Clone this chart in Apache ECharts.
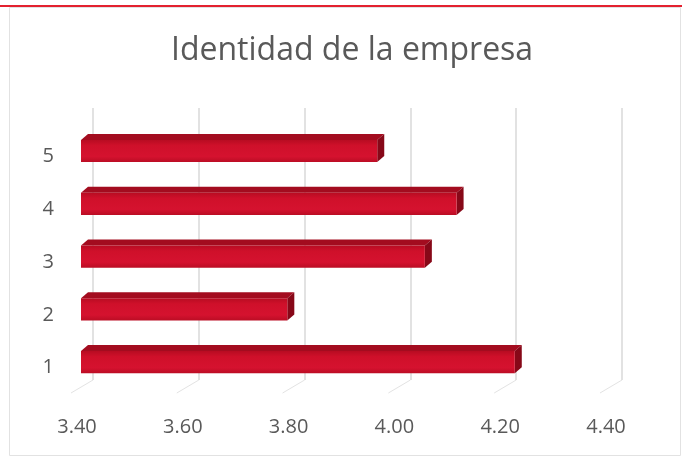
<!DOCTYPE html>
<html>
<head>
<meta charset="utf-8">
<script src="https://cdn.jsdelivr.net/npm/echarts@6/dist/echarts.min.js"></script>
<style>
  html, body { margin: 0; padding: 0; background: #ffffff; }
  #chart { width: 682px; height: 459px; }
</style>
</head>
<body>
<div id="chart"></div>
<script>
// Survey scores for "Identidad de la empresa"
const categories = ['1', '2', '3', '4', '5'];
const scores = [4.22, 3.79, 4.05, 4.11, 3.96];
const tickValues = [3.40, 3.60, 3.80, 4.00, 4.20, 4.40];
const axisMin = 3.4;
const axisMax = 4.4;
const axisStep = 0.2;

const labelColor = '#595959';
const gridColor = '#d9d9d9';
// depth offset of the extruded bars
const DX = 7, DY = 6;

function renderBar(params, api) {
  const cat = api.value(0);
  const val = api.value(1);
  const start = api.coord([axisMin, cat]);
  const end = api.coord([val, cat]);
  const band = api.size([0, 1])[1];
  const h = band * 0.42;
  const x0 = start[0], x1 = end[0];
  const y0 = start[1] - h / 2;
  return {
    type: 'group',
    children: [
      {
        type: 'polygon',
        shape: { points: [[x0, y0], [x0 + DX, y0 - DY], [x1 + DX, y0 - DY], [x1, y0]] },
        style: { fill: '#a30c1f' }
      },
      {
        type: 'polygon',
        shape: { points: [[x1, y0], [x1 + DX, y0 - DY], [x1 + DX, y0 + h - DY], [x1, y0 + h]] },
        style: { fill: '#870818' }
      },
      {
        type: 'rect',
        shape: { x: x0, y: y0, width: x1 - x0, height: h },
        style: {
          fill: new echarts.graphic.LinearGradient(0, 0, 0, 1, [
            { offset: 0, color: '#b80c22' },
            { offset: 0.25, color: '#cf102a' },
            { offset: 0.75, color: '#d5122f' },
            { offset: 1, color: '#bb0d24' }
          ])
        }
      }
    ]
  };
}

// short floor lines running from the back wall to the front edge
function renderFloor(params, api) {
  const p = api.coord([api.value(0), 0]);
  return {
    type: 'line',
    shape: { x1: p[0], y1: p[1], x2: p[0] - 22, y2: p[1] + 13 },
    style: { stroke: '#e3e3e3', lineWidth: 1 }
  };
}

const chart = echarts.init(document.getElementById('chart'), null, { renderer: 'canvas' });

chart.setOption({
  animation: false,
  backgroundColor: '#ffffff',
  title: {
    text: 'Identidad de la empresa',
    left: 166,
    top: 30,
    textStyle: {
      fontFamily: 'Open Sans',
      fontSize: 32,
      fontWeight: 'normal',
      color: labelColor
    }
  },
  graphic: [
    {
      type: 'rect',
      shape: { x: 9.5, y: 7.5, width: 671, height: 448 },
      style: { fill: 'none', stroke: '#e2e2e2', lineWidth: 1 },
      z: 0
    },
    {
      type: 'line',
      shape: { x1: 0, y1: 6, x2: 682, y2: 6 },
      style: { stroke: '#e3212f', lineWidth: 2 },
      z: 10
    }
  ],
  grid: [
    { left: 81, right: 72, top: 124.6, bottom: 70.4 },
    { left: 93, right: 60, top: 108, bottom: 79 }
  ],
  xAxis: [
    {
      type: 'value',
      gridIndex: 0,
      min: axisMin,
      max: axisMax,
      interval: axisStep,
      axisLine: { show: false },
      axisTick: { show: false },
      splitLine: { show: false },
      axisLabel: {
        margin: 29,
        padding: [0, 8, 0, 0],
        fontFamily: 'Open Sans',
        fontSize: 20,
        color: labelColor,
        formatter: v => v.toFixed(2)
      }
    },
    {
      type: 'value',
      gridIndex: 1,
      min: axisMin,
      max: axisMax,
      interval: axisStep,
      axisLine: { show: false },
      axisTick: { show: false },
      axisLabel: { show: false },
      splitLine: { show: true, lineStyle: { color: gridColor, width: 1.5 } }
    }
  ],
  yAxis: [
    {
      type: 'category',
      gridIndex: 0,
      data: categories,
      axisLine: { show: false },
      axisTick: { show: false },
      axisLabel: {
        margin: 27,
        formatter: v => '{c|' + v + '}',
        rich: {
          c: {
            padding: [11, 0, 0, 0],
            fontFamily: 'Open Sans',
            fontSize: 20,
            color: labelColor
          }
        }
      }
    },
    {
      type: 'value',
      gridIndex: 1,
      min: 0,
      max: 1,
      show: false
    }
  ],
  series: [
    {
      type: 'custom',
      xAxisIndex: 1,
      yAxisIndex: 1,
      renderItem: renderFloor,
      data: tickValues.map(v => [v]),
      encode: { x: 0 },
      silent: true,
      z: 1
    },
    {
      type: 'custom',
      xAxisIndex: 0,
      yAxisIndex: 0,
      renderItem: renderBar,
      data: categories.map((c, i) => [i, scores[i]]),
      encode: { y: 0, x: 1 },
      z: 5
    }
  ]
});
</script>
</body>
</html>
